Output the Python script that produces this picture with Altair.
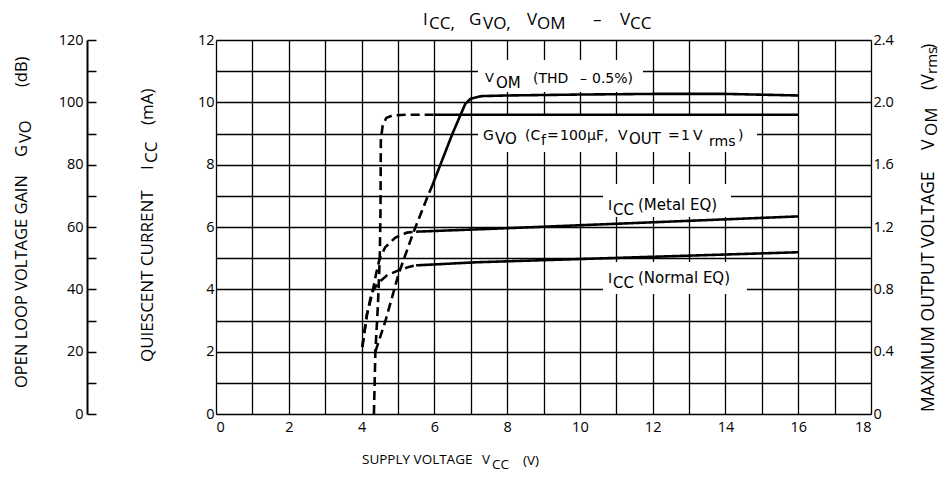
import altair as alt
import pandas as pd

# ---------------- data ----------------
# G_VO open loop voltage gain (dB) vs V_CC (V)
gvo_dash_x = [4.34, 4.38, 4.45, 4.50, 4.52, 4.53, 4.58, 4.68, 4.85, 5.2, 6.0]
gvo_dash_db = [0, 20, 35, 50, 65, 88, 92.5, 95.0, 95.8, 96.0, 96.0]
gvo_solid_x = [6.0, 16.0]
gvo_solid_db = [96.0, 96.0]

# V_OM maximum output voltage (Vrms)
vom_dash_x = [4.38, 4.66, 5.02, 5.40, 5.84, 5.95]
vom_dash_v = [0.40, 0.60, 0.90, 1.15, 1.41, 1.47]
vom_solid_x = [5.95, 6.5, 6.85, 7.0, 7.3, 8.0, 10.0, 12.0, 14.0, 16.0]
vom_solid_v = [1.47, 1.80, 1.99, 2.024, 2.04, 2.044, 2.05, 2.054, 2.054, 2.044]

# I_CC quiescent current (mA), Metal EQ
metal_dash_x = [4.02, 4.15, 4.29, 4.40, 4.50, 4.65, 4.93, 5.25, 5.5]
metal_dash_ma = [2.15, 3.2, 3.85, 4.5, 5.0, 5.35, 5.66, 5.82, 5.85]
metal_solid_x = [5.5, 7.75, 16.0]
metal_solid_ma = [5.85, 5.95, 6.34]

# I_CC quiescent current (mA), Normal EQ
normal_dash_x = [4.02, 4.15, 4.28, 4.45, 4.70, 5.0, 5.3, 5.5]
normal_dash_ma = [2.15, 3.2, 3.9, 4.2, 4.45, 4.6, 4.72, 4.77]
normal_solid_x = [5.5, 7.2, 16.0]
normal_solid_ma = [4.77, 4.87, 5.19]

x_ticks = list(range(0, 19))
icc_ticks = list(range(0, 13))
gvo_ticks = list(range(0, 121, 10))
vom_ticks = [0, 0.4, 0.8, 1.2, 1.6, 2.0, 2.4]

# text fragments: (text, page x, page baseline y, font size, angle)
title_frags = [
    ("I", 423, 25, 17, 0), ("CC,", 429, 29, 17, 0), ("G", 469, 25, 17, 0),
    ("VO,", 483, 29, 17, 0), ("V", 527, 25, 17, 0), ("OM", 537, 29, 17, 0),
    ("\u2013", 593, 25, 17, 0), ("V", 620, 25, 17, 0), ("CC", 630, 29, 17, 0),
    ("SUPPLY VOLTAGE", 362, 464, 13.5, 0), ("V", 482, 464, 13.5, 0),
    ("CC", 492, 469, 13.5, 0), ("(V)", 523, 465, 13.5, 0),
    ("OPEN LOOP VOLTAGE GAIN", 27, 388, 16.5, 270), ("G", 27, 157, 16.5, 270),
    ("VO", 31, 143, 16.5, 270), ("(dB)", 27, 87, 16.5, 270),
    ("QUIESCENT CURRENT", 153, 362, 17, 270), ("I", 153, 170, 17, 270),
    ("CC", 157, 163, 17, 270), ("(mA)", 153, 125, 17, 270),
    ("MAXIMUM OUTPUT VOLTAGE", 934, 412, 17.5, 270), ("V", 934, 150, 17.5, 270),
    ("OM", 937, 136, 17, 270), ("(V", 934, 90, 17.5, 270),
    ("rms", 937, 74, 15, 270), (")", 934, 49, 17.5, 270),
]
label_frags = [
    ("V", 485, 82, 13, 0), ("OM", 496, 88, 15, 0), ("(THD", 533, 83, 14, 0),
    ("\u2013", 580, 83, 14, 0), ("0.5%)", 592, 83, 14, 0),
    ("G", 483, 140, 14, 0), ("VO", 495, 144, 15, 0), ("(C", 525, 140, 14, 0),
    ("f", 541, 145, 14, 0), ("=", 547, 140, 14, 0), ("100", 560, 140, 14, 0),
    ("\u03bcF,", 587, 140, 14, 0), ("V", 618, 140, 14, 0),
    ("OUT", 629, 144, 15, 0), ("=", 668, 140, 14, 0), ("1", 681, 140, 14, 0),
    ("V", 693, 140, 14, 0), ("rms", 709, 146, 14, 0), (")", 738, 140, 14, 0),
    ("I", 608, 210, 14, 0), ("CC", 613, 215, 15, 0), ("(Metal EQ)", 638, 210, 15, 0),
    ("I", 608, 283, 14, 0), ("CC", 613, 288, 15, 0), ("(Normal EQ)", 638, 283, 15, 0),
]
# white label backgrounds: (x1, y1, x2, y2) page px
label_boxes = [(478, 60, 643, 92), (478, 116, 757, 152), (603, 184, 731, 217), (603, 262, 747, 294)]

# ---------------- layout ----------------
W, H = 655, 374
OX, OY = 216, 40  # page position of plot origin


def seg(name, part, xs, ys):
    return pd.DataFrame({"x": xs, "y": ys, "seg": name + "_" + part, "part": part})


gvo_df = pd.concat([seg("gvo", "dash", gvo_dash_x, gvo_dash_db), seg("gvo", "solid", gvo_solid_x, gvo_solid_db)])
vom_df = pd.concat([seg("vom", "dash", vom_dash_x, vom_dash_v), seg("vom", "solid", vom_solid_x, vom_solid_v)])
icc_df = pd.concat([
    seg("metal", "dash", metal_dash_x, metal_dash_ma), seg("metal", "solid", metal_solid_x, metal_solid_ma),
    seg("normal", "dash", normal_dash_x, normal_dash_ma), seg("normal", "solid", normal_solid_x, normal_solid_ma),
])

FONT = "Open Sans"
X = alt.X("x:Q", scale=alt.Scale(domain=[0, 18], nice=False, zero=False),
          axis=alt.Axis(values=x_ticks, labelExpr="datum.value % 2 == 0 ? datum.label : ''",
                        grid=True, gridColor="black", gridWidth=1.3, gridOpacity=1,
                        ticks=False, domain=False, labelFontSize=14.5, labelPadding=6,
                        labelColor="black", labelFont=FONT, title=None))
DASH = alt.StrokeDash("part:N", scale=alt.Scale(domain=["dash", "solid"], range=[[9, 5], [1, 0]]), legend=None)

icc = alt.Chart(icc_df).mark_line(color="black", strokeWidth=2.6).encode(
    x=X,
    y=alt.Y("y:Q", scale=alt.Scale(domain=[0, 12], nice=False),
            axis=alt.Axis(orient="left", values=icc_ticks,
                          labelExpr="datum.value % 2 == 0 ? datum.label : ''",
                          grid=True, gridColor="black", gridWidth=1.3, gridOpacity=1,
                          ticks=False, domain=False, labelFontSize=14.5, labelPadding=2,
                          labelColor="black", labelFont=FONT, title=None)),
    detail="seg:N", strokeDash=DASH)

gvo = alt.Chart(gvo_df).mark_line(color="black", strokeWidth=2.6).encode(
    x=X,
    y=alt.Y("y:Q", scale=alt.Scale(domain=[0, 120], nice=False),
            axis=alt.Axis(orient="right", offset=-(W + OX - 87), values=gvo_ticks,
                          labelExpr="datum.value % 20 == 0 ? datum.label : ''",
                          grid=False, ticks=True, tickSize=9, tickColor="black", tickWidth=1.5,
                          domain=True, domainColor="black", domainWidth=2,
                          labelAlign="right", labelPadding=-13, labelFontSize=14.5,
                          labelColor="black", labelFont=FONT, title=None)),
    detail="seg:N", strokeDash=DASH)

vom = alt.Chart(vom_df).mark_line(color="black", strokeWidth=2.6).encode(
    x=X,
    y=alt.Y("y:Q", scale=alt.Scale(domain=[0, 2.4], nice=False),
            axis=alt.Axis(orient="right", values=vom_ticks,
                          labelExpr="datum.value == 0 ? '0' : format(datum.value, '.1f')",
                          grid=False, ticks=False, domain=False, labelPadding=2,
                          labelFontSize=14.5, labelColor="black", labelFont=FONT, title=None)),
    detail="seg:N", strokeDash=DASH)

box_df = pd.DataFrame([{"x1": a - OX, "y1": b - OY, "x2": c - OX, "y2": d - OY} for a, b, c, d in label_boxes])
boxes = alt.Chart(box_df).mark_rect(fill="white").encode(
    x=alt.X("x1:Q", scale=None, axis=None), x2="x2:Q",
    y=alt.Y("y1:Q", scale=None, axis=None), y2="y2:Q")


def frag_df(frags):
    return pd.DataFrame([{"t": t, "tx": x - OX, "ty": y - OY, "fs": s, "ang": a} for t, x, y, s, a in frags])


def text_layer(frags, font):
    return alt.Chart(frag_df(frags)).mark_text(align="left", baseline="alphabetic", font=font, color="black").encode(
        x=alt.X("tx:Q", scale=None, axis=None), y=alt.Y("ty:Q", scale=None, axis=None),
        text="t:N", size=alt.Size("fs:Q", scale=None, legend=None),
        angle=alt.Angle("ang:Q", scale=None, legend=None))


chart = alt.layer(
    boxes, icc, gvo, vom, text_layer(title_frags, FONT), text_layer(label_frags, "DejaVu Sans")
).resolve_scale(y="independent").properties(
    width=W, height=H, autosize=alt.AutoSizeParams(type="none"),
    padding={"left": OX - 8, "top": OY - 8, "right": 942 - OX - W, "bottom": 475 - OY - H},
).configure_view(stroke="black", strokeWidth=2).configure(background="white")

chart.save("out.html", embed_options={"renderer": "svg", "actions": False})
